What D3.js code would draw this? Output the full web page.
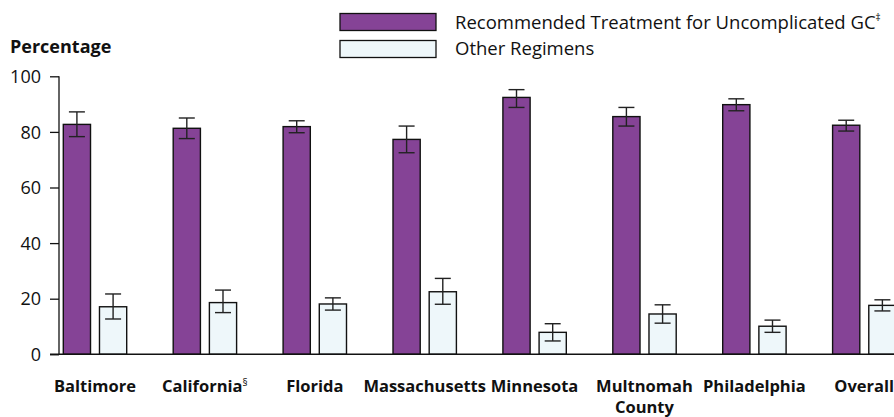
<!DOCTYPE html>
<html><head><meta charset="utf-8">
<script src="https://cdn.jsdelivr.net/npm/d3@7"></script>
<style>
body{margin:0;background:#fff;}
text{font-family:"Open Sans","Noto Sans",sans-serif;fill:#111;}
</style></head>
<body><svg id="c" width="894" height="417"></svg>
<script>
const categories = ["Baltimore","California","Florida","Massachusetts","Minnesota","Multnomah County","Philadelphia","Overall"];
const categorySup = ["","§","","","","","",""];
const seriesNames = ["Recommended Treatment for Uncomplicated GC","Other Regimens"];
const recommended = [82.7,81.3,81.9,77.3,92.4,85.5,89.8,82.4];
const recLow  = [78.3,77.6,79.7,72.5,88.8,82.1,87.6,80.3];
const recHigh = [87.2,85.0,84.0,82.1,95.2,88.8,91.9,84.2];
const other = [17.1,18.6,18.1,22.5,7.9,14.5,10.1,17.6];
const othLow  = [12.7,15.0,15.9,18.0,4.8,11.2,7.9,15.6];
const othHigh = [21.7,23.1,20.3,27.3,11.0,17.8,12.3,19.6];
const yTicks = [0,20,40,60,80,100];

const colors = ["#854396","#eef7fa"];
const svg = d3.select("#c");
const y = d3.scaleLinear().domain([0,100]).range([354.3,76.3]);
const step = 109.9;
const x = d3.scaleBand().domain(categories).range([40, 40+step*categories.length]).padding(0);
const xs = d3.scaleBand().domain([0,1]).range([23.3, 86.7]).paddingInner(0.248);

// y axis
const yAxis = d3.axisLeft(y).tickValues(yTicks).tickSize(9).tickPadding(9);
const ga = svg.append("g").attr("transform","translate(59,0)").call(yAxis);
ga.select(".domain").attr("d","M0,76.3V354.3").attr("stroke","#111").attr("stroke-width",1.3);
ga.selectAll(".tick line").attr("stroke","#111").attr("stroke-width",1.3);
ga.selectAll(".tick text").style("font-size","18px").style("font-family","'Open Sans',sans-serif").attr("fill","#111").attr("dy","0.34em");

// bars
const data = categories.map((c,i)=>({c, vals:[
  {s:0,v:recommended[i],lo:recLow[i],hi:recHigh[i]},
  {s:1,v:other[i],lo:othLow[i],hi:othHigh[i]}]}));
const g = svg.selectAll(".grp").data(data).enter().append("g")
  .attr("transform",d=>`translate(${x(d.c)},0)`);
g.selectAll("rect").data(d=>d.vals).enter().append("rect")
  .attr("x",d=>xs(d.s)).attr("width",xs.bandwidth())
  .attr("y",d=>y(d.v)).attr("height",d=>y(0)-y(d.v))
  .attr("fill",d=>colors[d.s]).attr("stroke","#111").attr("stroke-width",1.4);
const eb = g.selectAll(".eb").data(d=>d.vals).enter().append("g")
  .attr("stroke","#222").attr("stroke-width",1.4);
eb.append("line").attr("x1",d=>xs(d.s)+xs.bandwidth()/2).attr("x2",d=>xs(d.s)+xs.bandwidth()/2)
  .attr("y1",d=>y(d.lo)).attr("y2",d=>y(d.hi));
eb.append("line").attr("x1",d=>xs(d.s)+xs.bandwidth()/2-8).attr("x2",d=>xs(d.s)+xs.bandwidth()/2+8)
  .attr("y1",d=>y(d.lo)).attr("y2",d=>y(d.lo));
eb.append("line").attr("x1",d=>xs(d.s)+xs.bandwidth()/2-8).attr("x2",d=>xs(d.s)+xs.bandwidth()/2+8)
  .attr("y1",d=>y(d.hi)).attr("y2",d=>y(d.hi));

// x axis line
svg.append("line").attr("x1",50).attr("x2",894).attr("y1",y(0)).attr("y2",y(0))
  .attr("stroke","#111").attr("stroke-width",1.4);

// category labels
categories.forEach((c,i)=>{
  const cx = x(c)+x.bandwidth()/2;
  const parts = c==="Multnomah County" ? ["Multnomah","County"] : [c];
  parts.forEach((p,j)=>{
    const t = svg.append("text").attr("x",cx).attr("y",391.5+j*21).attr("text-anchor","middle")
      .style("font-size","16.5px").style("font-weight","bold").text(p);
    if(j===0 && categorySup[i]) t.append("tspan").attr("dy","-6").style("font-size","10px").style("font-weight","normal").text(categorySup[i]);
  });
});

// title
svg.append("text").attr("x",10).attr("y",53.3).style("font-size","18px").style("font-weight","bold").text("Percentage");

// legend
seriesNames.forEach((s,i)=>{
  svg.append("rect").attr("x",340).attr("y",13.5+i*27).attr("width",96).attr("height",17)
    .attr("fill",colors[i]).attr("stroke","#111").attr("stroke-width",1.3);
  const t = svg.append("text").attr("x",455).attr("y",29.3+i*26).style("font-size","18.5px").text(s);
  if(i===0) t.append("tspan").attr("dy","-8").style("font-size","10px").text("‡");
});
</script></body></html>
